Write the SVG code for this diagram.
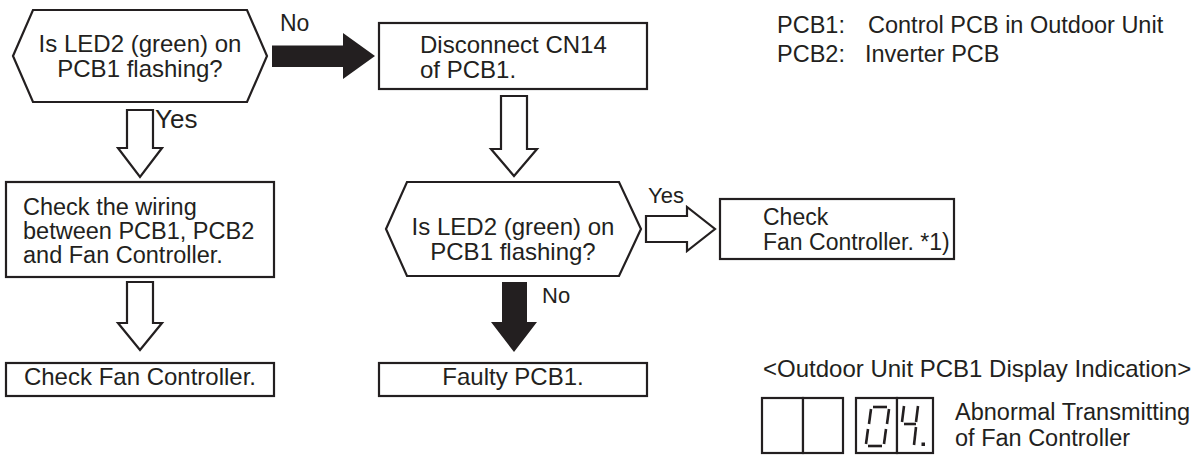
<svg xmlns="http://www.w3.org/2000/svg" width="1201" height="455" viewBox="0 0 1201 455">
<style>
  .t { font-family: "Liberation Sans", Arial, sans-serif; font-size: 24px; fill: #231f20; }
  .c { text-anchor: middle; }
  .box { fill: #fff; stroke: #231f20; stroke-width: 2.2; }
  .hollow { fill: #fff; stroke: #231f20; stroke-width: 2.2; stroke-linejoin: miter; }
  .solid { fill: #231f20; stroke: none; }
  .seg { stroke: #231f20; stroke-width: 2.6; stroke-linecap: butt; fill: none; }
</style>
<rect width="1201" height="455" fill="#fff"/>

<g id="connectors">
  <!-- No: hex1 -> Disconnect -->
  <path class="solid" d="M272 45.5 H343 V33 L375 56 L343 79 V67 H272 Z"/>
  <text class="t" x="280" y="31" style="font-size:23px">No</text>
  <!-- Yes: hex1 -> Check wiring -->
  <path class="hollow" d="M127 110 V148 H118 L140 177 L162 148 H153 V110 Z"/>
  <text class="t" x="155" y="128" style="font-size:26px">Yes</text>
  <!-- Check wiring -> Check Fan Controller -->
  <path class="hollow" d="M127 282 V323 H118 L140 350 L162 323 H153 V282 Z"/>
  <!-- Disconnect -> hex2 -->
  <path class="hollow" d="M501 96 V149 H491 L514 176 L537 149 H527 V96 Z"/>
  <!-- Yes: hex2 -> Check Fan Controller *1 -->
  <path class="hollow" d="M646 216 H687 V207 L715 229 L687 251 V242 H646 Z"/>
  <text class="t" x="648" y="203" style="font-size:22px">Yes</text>
  <!-- No: hex2 -> Faulty PCB1 -->
  <path class="solid" d="M502 282 H527 V322 H537 L514 352 L491 322 H502 Z"/>
  <text class="t" x="542" y="303" style="font-size:22px">No</text>
</g>

<g id="q1">
  <polygon class="box" points="13,56 33,10 247,10 267,56 247,102 33,102"/>
  <text class="t c" x="140" y="52">Is LED2 (green) on</text>
  <text class="t c" x="140" y="77">PCB1 flashing?</text>
</g>

<g id="disconnect">
  <rect class="box" x="379" y="23" width="268" height="66"/>
  <text class="t" x="420" y="53">Disconnect CN14</text>
  <text class="t" x="420" y="78">of PCB1.</text>
</g>

<g id="check-wiring">
  <rect class="box" x="6" y="182" width="268" height="95"/>
  <text class="t" x="23" y="215" style="font-size:23.5px">Check the wiring</text>
  <text class="t" x="23" y="239" style="font-size:23.5px">between PCB1, PCB2</text>
  <text class="t" x="23" y="263" style="font-size:23.5px">and Fan Controller.</text>
</g>

<g id="check-fan">
  <rect class="box" x="6" y="363" width="268" height="33"/>
  <text class="t c" x="140" y="385">Check Fan Controller.</text>
</g>

<g id="q2">
  <polygon class="box" points="386,229 407,182 619,182 641,229 619,276 407,276"/>
  <text class="t c" x="513" y="235">Is LED2 (green) on</text>
  <text class="t c" x="513" y="260">PCB1 flashing?</text>
</g>

<g id="check-fan-1">
  <rect class="box" x="720" y="199" width="234" height="60"/>
  <text class="t" x="763" y="225" style="font-size:23px">Check</text>
  <text class="t" x="763" y="250" style="font-size:23px">Fan Controller. *1)</text>
</g>

<g id="faulty">
  <rect class="box" x="379" y="363" width="268" height="33"/>
  <text class="t c" x="513" y="385">Faulty PCB1.</text>
</g>

<g id="legend">
  <text class="t" x="777" y="33" style="font-size:23.5px">PCB1:</text>
  <text class="t" x="868" y="33" style="font-size:23.5px">Control PCB in Outdoor Unit</text>
  <text class="t" x="777" y="62" style="font-size:23.5px">PCB2:</text>
  <text class="t" x="865" y="62" style="font-size:23.5px">Inverter PCB</text>
</g>

<g id="display">
  <text class="t" x="763" y="377">&lt;Outdoor Unit PCB1 Display Indication&gt;</text>
  <rect class="box" x="762" y="398" width="41" height="55"/>
  <rect class="box" x="803" y="398" width="40" height="55"/>
  <rect class="box" x="856" y="398" width="41" height="55"/>
  <rect class="box" x="897" y="398" width="36" height="55"/>
  <!-- 0 -->
  <line class="seg" x1="873" y1="407" x2="887" y2="407"/>
  <line class="seg" x1="871" y1="409" x2="869" y2="424"/>
  <line class="seg" x1="868" y1="429" x2="866" y2="444"/>
  <line class="seg" x1="868" y1="446" x2="882" y2="446"/>
  <line class="seg" x1="889" y1="409" x2="887" y2="424"/>
  <line class="seg" x1="886" y1="429" x2="884" y2="444"/>
  <!-- 4 -->
  <line class="seg" x1="904" y1="406" x2="902" y2="422"/>
  <line class="seg" x1="904" y1="424" x2="916" y2="424"/>
  <line class="seg" x1="918" y1="406" x2="916" y2="422"/>
  <line class="seg" x1="916" y1="427" x2="914" y2="445"/>
  <rect x="921.5" y="442.5" width="3.5" height="3.5" fill="#231f20"/>
  <text class="t" x="955" y="420" style="font-size:23.5px">Abnormal Transmitting</text>
  <text class="t" x="955" y="446" style="font-size:23.5px">of Fan Controller</text>
</g>
</svg>
